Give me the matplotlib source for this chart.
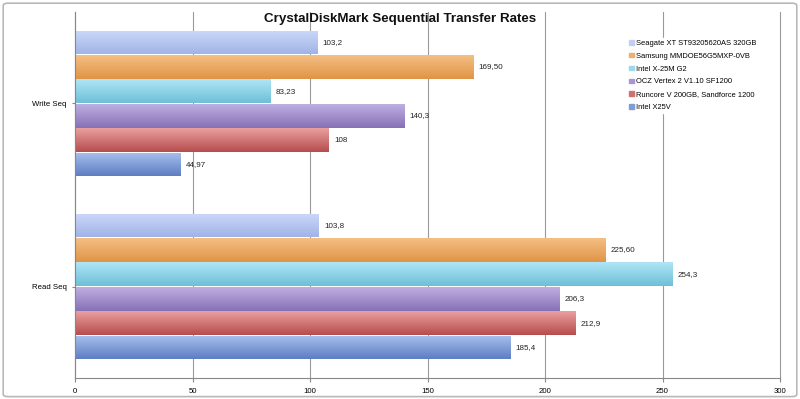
import numpy as np
import matplotlib
matplotlib.use("Agg")
import matplotlib.pyplot as plt
from matplotlib.colors import LinearSegmentedColormap
from matplotlib.patches import FancyBboxPatch

plt.rcParams["font.family"] = ["Liberation Sans", "DejaVu Sans"]

categories = ["Write Seq", "Read Seq"]
drives = [
    "Seagate XT ST93205620AS 320GB",
    "Samsung MMDOE56G5MXP-0VB",
    "Intel X-25M G2",
    "OCZ Vertex 2 V1.10 SF1200",
    "Runcore V 200GB, Sandforce 1200",
    "Intel X25V",
]
write_seq = [103.2, 169.50, 83.23, 140.3, 108, 44.97]
read_seq = [103.8, 225.60, 254.3, 206.3, 212.9, 185.4]
write_labels = ["103,2", "169,50", "83,23", "140,3", "108", "44,97"]
read_labels = ["103,8", "225,60", "254,3", "206,3", "212,9", "185,4"]

# (top, bottom) gradient colours per drive
colors = [
    ("#cdd9fa", "#9fb3e6"),
    ("#f5bf85", "#df9445"),
    ("#b0e6f6", "#6dbfd8"),
    ("#bfb0e2", "#8670b6"),
    ("#eba0a0", "#b54c4c"),
    ("#a9c1ef", "#5d7dc2"),
]
legend_sq = ["#c2cff3", "#eeb06e", "#9ad8ec", "#a895d2", "#d07070", "#7f9cd8"]

fig = plt.figure(figsize=(8.0, 3.99), dpi=100)
fig.patches.append(FancyBboxPatch((0.004, 0.006), 0.992, 0.986,
                                  boxstyle="round,pad=0,rounding_size=0.006",
                                  transform=fig.transFigure, fill=False,
                                  edgecolor="#b8b8b8", linewidth=1.2))
ax = fig.add_axes([0.09375, 0.0526, 0.88125, 0.9174])

n = len(drives)
bh = 0.8 / n
values = [write_seq, read_seq]
labels = [write_labels, read_labels]

for ci in range(len(categories)):
    for di in range(n):
        y = ci - 0.4 + bh * (di + 0.5)
        v = values[ci][di]
        bar = ax.barh(y, v, height=bh * 0.97, color="none", edgecolor="none")[0]
        cmap = LinearSegmentedColormap.from_list("g", [colors[di][0], colors[di][1]])
        grad = np.linspace(0, 1, 64).reshape(-1, 1)
        im = ax.imshow(grad, cmap=cmap, aspect="auto",
                       extent=[0, v, y + bh / 2, y - bh / 2], zorder=2)
        im.set_clip_path(bar)
        ax.text(v + 2.2, y, labels[ci][di], va="center", ha="left",
                fontsize=5.8, color="#222222", zorder=3)

ax.set_xlim(0, 300)
ax.set_ylim(1.5, -0.5)
ax.set_xticks(range(0, 301, 50))
ax.set_xticklabels([str(t) for t in range(0, 301, 50)], fontsize=5.6)
ax.set_yticks(range(len(categories)))
ax.set_yticklabels(categories, fontsize=5.6)
ax.tick_params(axis="y", length=2, color="#888888", pad=4)
ax.tick_params(axis="x", length=3, color="#888888", pad=4)
ax.grid(True, axis="x", color="#9a9a9a", linewidth=0.8, zorder=0)
ax.set_axisbelow(True)
for gl in ax.get_xgridlines():
    gl.set_clip_on(False)
for s in ["top", "right"]:
    ax.spines[s].set_visible(False)
ax.spines["left"].set_color("#888888")
ax.spines["bottom"].set_color("#888888")
ax.spines["left"].set_linewidth(0.8)
ax.spines["bottom"].set_linewidth(0.8)

handles = [plt.Rectangle((0, 0), 1, 1, color=c) for c in legend_sq]
leg = ax.legend(handles, drives, loc="upper left", bbox_to_anchor=(0.778, 0.94),
                frameon=True, fontsize=5.4, handlelength=0.55, handleheight=0.55,
                handletextpad=0.35, labelspacing=0.78, borderpad=0.3)
leg.get_frame().set_edgecolor("white")
leg.get_frame().set_facecolor("white")
leg.get_frame().set_alpha(1.0)

fig.text(0.5, 0.953, "CrystalDiskMark Sequential Transfer Rates", ha="center",
         va="center", fontsize=9.6, fontweight="bold", color="#111111")

fig.savefig("out.png", dpi=100)
